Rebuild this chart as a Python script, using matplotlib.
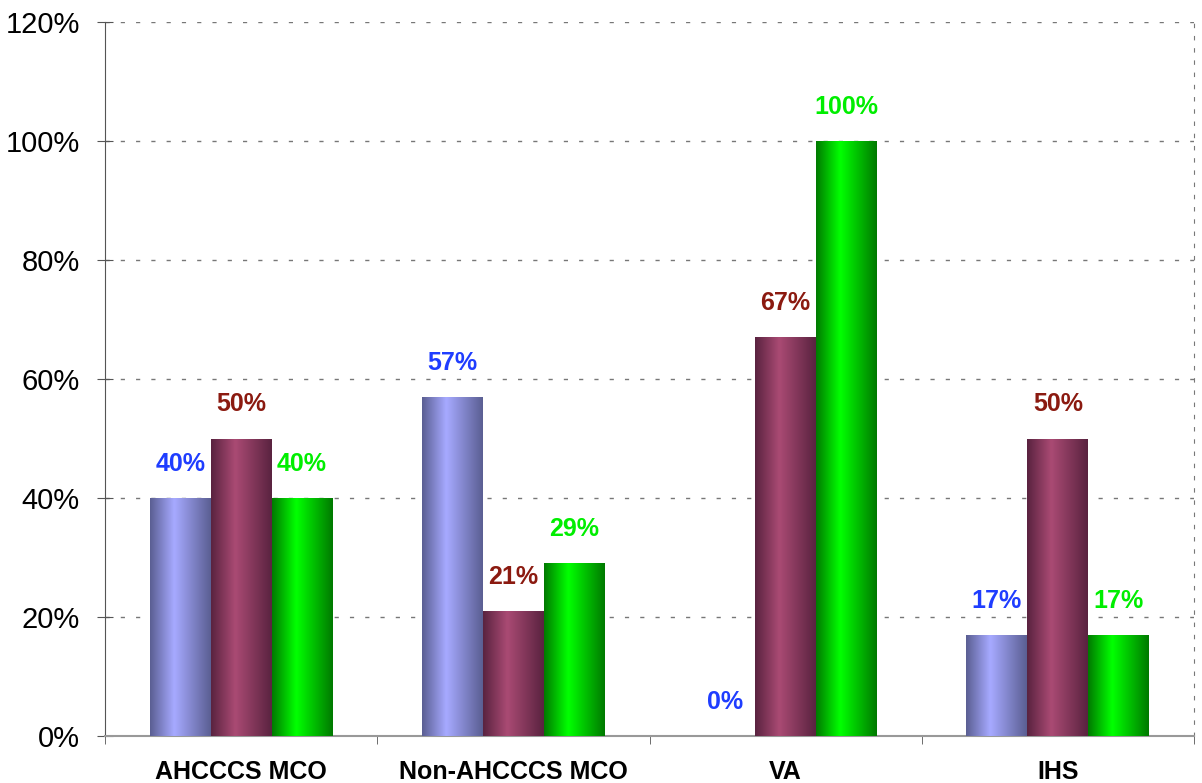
import numpy as np
import matplotlib
matplotlib.use("Agg")
import matplotlib.pyplot as plt
from matplotlib.colors import LinearSegmentedColormap

categories = ["AHCCCS MCO", "Non-AHCCCS MCO", "VA", "IHS"]
series_a = [40, 57, 0, 17]
series_b = [50, 21, 67, 50]
series_c = [40, 29, 100, 17]
y_ticks = [0, 20, 40, 60, 80, 100, 120]
y_tick_labels = ["0%", "20%", "40%", "60%", "80%", "100%", "120%"]

plt.rcParams['font.family'] = ['Liberation Sans', 'DejaVu Sans']

fig = plt.figure(figsize=(12.02, 7.83), dpi=100)
ax = fig.add_axes([105/1202, (783-736)/783, (1194-105)/1202, (736-22)/783])

x = np.arange(len(categories))
w = 0.224
series = [series_a, series_b, series_c]
shades = [("#5b5f93", "#a6a9ff"), ("#5a2340", "#a94a73"), ("#007a00", "#00ff00")]
label_colors = ["#1f3dff", "#8b1a10", "#00ee00"]

grad = np.concatenate([np.linspace(0, 1, 40), np.linspace(1, 0, 60)])[None, :]
for i, (vals, (dark, light), lc) in enumerate(zip(series, shades, label_colors)):
    cmap = LinearSegmentedColormap.from_list(f"c{i}", [dark, light])
    pos = x + (i - 1) * w
    bars = ax.bar(pos, vals, width=w, color="none", edgecolor="none", zorder=3)
    for b, v in zip(bars, vals):
        if v > 0:
            x0, y0 = b.get_x(), b.get_y()
            im = ax.imshow(grad, cmap=cmap, aspect="auto",
                           extent=[x0, x0 + b.get_width(), y0, y0 + b.get_height()],
                           zorder=3, interpolation="bilinear")
            im.set_clip_path(b)
        ax.annotate(f"{v}%", (b.get_x() + b.get_width()/2, v), xytext=(0, 16),
                    textcoords="offset points", ha="center", va="bottom",
                    color=lc, fontsize=18, fontweight="bold", zorder=4)

ax.set_xlim(-0.5, len(categories) - 0.5)
ax.set_ylim(0, 120)
ax.set_yticks(y_ticks)
ax.set_yticklabels(y_tick_labels, fontsize=21)
ax.set_xticks(x)
ax.set_xticklabels(categories, fontsize=18, fontweight="bold")
ax.tick_params(axis="x", length=0, pad=17)
ax.set_xticks(np.arange(-0.5, len(categories) + 0.5, 1), minor=True)
ax.tick_params(axis="x", which="minor", length=6, color="#555555", direction="out")
ax.tick_params(axis="y", length=12, direction="inout", color="#555555", pad=12)

for yv in y_ticks[1:]:
    ax.axhline(yv, color="#777777", lw=1, ls=(0, (3, 8)), zorder=1)

ax.spines["top"].set_visible(False)
ax.spines["right"].set_linestyle((0, (3, 8)))
ax.spines["right"].set_color("#777777")
ax.spines["left"].set_color("#555555")
ax.spines["bottom"].set_color("#999999")
ax.spines["bottom"].set_linewidth(1.5)

fig.savefig("out.png", dpi=100)
